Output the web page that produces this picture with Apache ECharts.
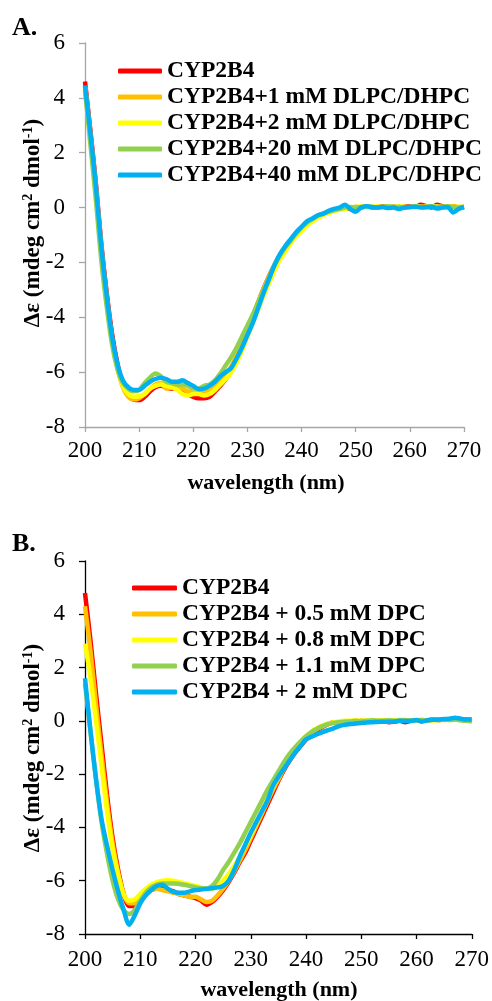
<!DOCTYPE html>
<html>
<head>
<meta charset="utf-8">
<script src="https://cdn.jsdelivr.net/npm/echarts@6/dist/echarts.min.js"></script>
<style>
html,body{margin:0;padding:0;background:#fff;}
#chart{width:492px;height:1001px;}
</style>
</head>
<body>
<div id="chart"></div>
<script>
// ---------- DATA ----------
var wavelengths = [200,201,202,203,204,205,206,207,208,209,210,211,212,213,214,215,216,217,218,219,220,221,222,223,224,225,226,227,228,229,230,231,232,233,234,235,236,237,238,239,240,241,242,243,244,245,246,247,248,249,250,251,252,253,254,255,256,257,258,259,260,261,262,263,264,265,266,267,268,269,270];

var namesA = ['CYP2B4','CYP2B4+1 mM DLPC/DHPC','CYP2B4+2 mM DLPC/DHPC','CYP2B4+20 mM DLPC/DHPC','CYP2B4+40 mM DLPC/DHPC'];
var namesB = ['CYP2B4','CYP2B4 + 0.5 mM DPC','CYP2B4 + 0.8 mM DPC','CYP2B4 + 1.1 mM DPC','CYP2B4 + 2 mM DPC'];

var A_red = [4.6,2.8,0.9,-1.3,-3.1,-4.6,-5.7,-6.45,-6.85,-7.0,
 -7.02,-6.9,-6.7,-6.55,-6.5,-6.55,-6.6,-6.55,-6.7,-6.8,
 -6.9,-6.95,-6.95,-6.9,-6.7,-6.5,-6.25,-5.95,-5.5,-5.05,
 -4.5,-3.95,-3.45,-2.95,-2.5,-2.1,-1.75,-1.45,-1.2,-0.95,
 -0.75,-0.6,-0.45,-0.32,-0.25,-0.15,-0.1,-0.05,0,-0.05,
 0.02,0,0.05,0,0.02,0.05,0,0.03,-0.02,0.03,
 0.05,0.02,0.1,0.05,0,0.1,0.05,0.02,0.05,0,0.02];
var A_orange = [4.4,2.6,0.7,-1.5,-3.3,-4.8,-5.85,-6.55,-6.9,-7.0,
 -6.95,-6.8,-6.6,-6.45,-6.4,-6.6,-6.55,-6.5,-6.6,-6.7,
 -6.75,-6.75,-6.75,-6.7,-6.55,-6.35,-6.1,-5.8,-5.4,-4.95,
 -4.45,-3.95,-3.45,-2.95,-2.5,-2.1,-1.75,-1.45,-1.2,-0.95,
 -0.75,-0.58,-0.45,-0.33,-0.25,-0.15,-0.1,-0.05,-0.02,0,
 0.02,0,0.03,0.02,0,0.03,0.02,0.05,0,0.02,
 0.03,0.05,0.02,0.05,0.03,0.05,0.02,0.03,0.05,0.02,0.03];
var A_yellow = [4.4,2.6,0.7,-1.5,-3.3,-4.8,-5.85,-6.5,-6.8,-6.9,
 -6.88,-6.8,-6.6,-6.5,-6.45,-6.5,-6.55,-6.65,-6.8,-6.85,
 -6.8,-6.8,-6.85,-6.8,-6.65,-6.45,-6.25,-6.0,-5.65,-5.2,
 -4.7,-4.2,-3.7,-3.2,-2.75,-2.3,-1.9,-1.6,-1.3,-1.05,
 -0.85,-0.65,-0.5,-0.38,-0.28,-0.2,-0.12,-0.08,-0.05,0,
 0.02,0.05,0,0.03,0.05,0.02,0.03,0,0.05,0.03,
 0,0.05,0.03,0.02,0.05,0.03,0.02,0.05,0.02,0.03,0.02];
var A_green = [4.3,2.3,0.3,-1.9,-3.6,-5.0,-5.9,-6.4,-6.6,-6.7,
 -6.65,-6.4,-6.2,-6.05,-6.15,-6.35,-6.4,-6.45,-6.45,-6.5,
 -6.6,-6.6,-6.5,-6.45,-6.3,-6.05,-5.75,-5.45,-5.1,-4.7,
 -4.3,-3.9,-3.45,-3.0,-2.55,-2.1,-1.75,-1.45,-1.2,-0.95,
 -0.72,-0.55,-0.42,-0.3,-0.22,-0.15,-0.1,-0.05,0,0.02,
 0,0.02,0.05,0.02,0,0.03,0.05,0.02,0.03,0,
 0.02,0.05,0.03,0,0.05,0.02,0.03,0.05,0.02,0,0.02];
var A_blue = [4.45,2.7,0.8,-1.4,-3.2,-4.7,-5.7,-6.3,-6.55,-6.65,
 -6.65,-6.5,-6.35,-6.25,-6.2,-6.25,-6.35,-6.35,-6.3,-6.4,
 -6.5,-6.62,-6.6,-6.5,-6.35,-6.15,-6.0,-5.85,-5.5,-5.1,
 -4.65,-4.2,-3.65,-3.1,-2.6,-2.1,-1.7,-1.4,-1.15,-0.9,
 -0.7,-0.5,-0.4,-0.28,-0.22,-0.12,-0.05,0.0,0.1,-0.05,
 -0.15,0.0,0.05,0.02,0,0.02,-0.02,0,-0.05,0,
 0.02,0.03,0,0.02,0.03,-0.03,0,0.02,-0.18,-0.05,0.02];

var B_red = [4.8,3.0,1.0,-0.9,-2.8,-4.4,-5.6,-6.5,-6.95,-6.95,
 -6.7,-6.5,-6.35,-6.3,-6.3,-6.35,-6.4,-6.5,-6.55,-6.6,
 -6.65,-6.75,-6.9,-6.8,-6.6,-6.35,-6.05,-5.7,-5.3,-4.95,
 -4.5,-4.05,-3.6,-3.15,-2.7,-2.25,-1.85,-1.5,-1.2,-0.95,
 -0.7,-0.5,-0.35,-0.22,-0.12,-0.05,-0.08,-0.08,-0.05,-0.05,
 0,-0.02,0,-0.02,0,-0.05,-0.03,0,-0.05,0,
 0.02,0,0.02,0.05,0.03,0.05,0.05,0.08,0.05,0.05,0.03];
var B_orange = [4.3,2.6,0.6,-1.3,-3.1,-4.6,-5.7,-6.5,-6.85,-6.85,
 -6.6,-6.45,-6.35,-6.3,-6.35,-6.4,-6.45,-6.5,-6.55,-6.6,
 -6.6,-6.7,-6.8,-6.75,-6.55,-6.3,-6.0,-5.65,-5.25,-4.85,
 -4.4,-3.95,-3.5,-3.05,-2.6,-2.2,-1.8,-1.45,-1.15,-0.9,
 -0.65,-0.45,-0.3,-0.2,-0.12,-0.08,-0.05,-0.05,-0.03,-0.03,
 0,-0.02,0,0,0.02,0,0,0.02,0,0.02,
 0.02,0.03,0.02,0.03,0.05,0.03,0.05,0.05,0.03,0.05,0.03];
var B_yellow = [2.9,1.6,0.0,-1.7,-3.4,-4.8,-5.8,-6.5,-6.75,-6.7,
 -6.5,-6.3,-6.15,-6.05,-6.0,-5.98,-6.0,-6.05,-6.1,-6.15,
 -6.2,-6.25,-6.3,-6.3,-6.2,-6.0,-5.75,-5.45,-5.1,-4.7,
 -4.3,-3.85,-3.4,-2.95,-2.5,-2.1,-1.7,-1.35,-1.05,-0.8,
 -0.58,-0.4,-0.28,-0.18,-0.1,-0.05,-0.02,0,0,0.02,
 0,0.02,0,0.02,0.02,0,0.02,0.03,0.02,0,
 0.02,0.02,0.03,0.02,0.03,0.05,0.03,0.05,0.03,0.02,0.03];
var B_green = [1.4,-0.4,-2.2,-3.8,-5.0,-6.0,-6.7,-7.1,-7.25,-7.1,
 -6.75,-6.45,-6.25,-6.15,-6.1,-6.1,-6.1,-6.12,-6.15,-6.2,
 -6.25,-6.28,-6.3,-6.2,-5.95,-5.6,-5.3,-4.95,-4.6,-4.2,
 -3.8,-3.4,-3.0,-2.6,-2.25,-1.9,-1.55,-1.25,-1.0,-0.78,
 -0.58,-0.42,-0.3,-0.2,-0.12,-0.08,-0.05,-0.03,-0.02,0,
 -0.02,0,0.02,0,0,0.02,0,0.02,0.03,0,
 0.02,0.03,0.02,0.05,0.03,0.05,0.03,0.05,0.02,0.0,-0.02];
var B_blue = [1.6,-0.4,-2.2,-3.7,-4.7,-5.6,-6.4,-7.1,-7.65,-7.3,
 -6.85,-6.55,-6.35,-6.2,-6.15,-6.3,-6.42,-6.45,-6.45,-6.4,
 -6.35,-6.33,-6.3,-6.28,-6.25,-6.2,-6.0,-5.6,-5.1,-4.65,
 -4.2,-3.8,-3.4,-3.0,-2.45,-2.1,-1.8,-1.5,-1.2,-0.95,
 -0.7,-0.6,-0.5,-0.42,-0.35,-0.28,-0.2,-0.15,-0.12,-0.1,
 -0.08,-0.06,-0.05,-0.04,-0.03,-0.03,-0.02,0,-0.01,0,
 0.03,-0.03,0.02,0.04,0.05,0.07,0.08,0.12,0.08,0.05,0.05];

var colors = ['#FF0000','#FFC000','#FFFF00','#92D050','#00B0F0'];
var yTicks = [-8,-6,-4,-2,0,2,4,6];
var xTicks = [200,210,220,230,240,250,260,270];

// ---------- CHART ----------
var FONT = "'Liberation Serif','Times New Roman',serif";
var chart = echarts.init(document.getElementById('chart'), null, {renderer:'canvas'});

function pairs(arr){ return wavelengths.map(function(w,i){ return [w, arr[i]]; }); }

function xAx(idx, col){
  return {gridIndex: idx, type:'value', min: xTicks[0], max: xTicks[xTicks.length-1], interval: 10,
    axisLine:{show:true, onZero:false, lineStyle:{color:col, width:1.3}},
    axisTick:{show:true, length:5, lineStyle:{color:col, width:1.3}},
    axisLabel:{fontSize:23, fontFamily:FONT, color:'#000', margin: idx===0?12:14},
    splitLine:{show:false}};
}
function yAx(idx, col){
  return {gridIndex: idx, type:'value', min: yTicks[0], max: yTicks[yTicks.length-1], interval: 2,
    axisLine:{show:true, onZero:false, lineStyle:{color:col, width:1.3}},
    axisTick:{show:true, length:6, lineStyle:{color:col, width:1.3}},
    axisLabel:{fontSize:23, fontFamily:FONT, color:'#000', margin:20},
    splitLine:{show:false}};
}

var seriesArr = [];
[A_red,A_orange,A_yellow,A_green,A_blue].forEach(function(d,i){
  seriesArr.push({type:'line', name:namesA[i], xAxisIndex:0, yAxisIndex:0, data:pairs(d),
    showSymbol:false, symbol:'none', smooth:0.3, color:colors[i],
    lineStyle:{width:4.5, color:colors[i]}, z: 2+i});
});
[B_red,B_orange,B_yellow,B_green,B_blue].forEach(function(d,i){
  seriesArr.push({type:'line', name:namesB[i], xAxisIndex:1, yAxisIndex:1, data:pairs(d),
    showSymbol:false, symbol:'none', smooth:0.3, color:colors[i],
    lineStyle:{width:4.5, color:colors[i]}, z: 2+i});
});

var legText = {fontSize:23.5, fontWeight:'bold', fontFamily:FONT, color:'#000', lineHeight:23};
var yTitleRich = {
  a:{fontSize:23, fontWeight:'bold', fontFamily:FONT, fill:'#000', color:'#000'},
  s:{fontSize:14, fontWeight:'bold', fontFamily:FONT, fill:'#000', color:'#000', verticalAlign:'top', padding:[0,0,10,0]}
};
var yTitleText = '{a|Δε (mdeg cm}{s|2}{a| dmol}{s|-1}{a|)}';

chart.setOption({
  animation:false,
  backgroundColor:'#fff',
  grid:[
    {left:85, top:43, width:379, height:384},
    {left:85, top:561, width:388, height:373}
  ],
  xAxis:[xAx(0,'#A6A6A6'), xAx(1,'#000')],
  yAxis:[yAx(0,'#A6A6A6'), yAx(1,'#000')],
  legend:[
    {data:namesA, orient:'vertical', left:113, top:54, itemWidth:44, itemHeight:5, itemGap:2,
     icon:'roundRect', textStyle:legText, selectedMode:false},
    {data:namesB, orient:'vertical', left:127, top:571, itemWidth:45, itemHeight:5, itemGap:2,
     icon:'roundRect', textStyle:legText, selectedMode:false}
  ],
  graphic:[
    {type:'text', x:12, y:28, style:{text:'A.', font:"bold 26px "+FONT, fill:'#000', textAlign:'left', textVerticalAlign:'middle'}},
    {type:'text', x:12, y:544, style:{text:'B.', font:"bold 26px "+FONT, fill:'#000', textAlign:'left', textVerticalAlign:'middle'}},
    {type:'text', x:33, y:223, rotation:Math.PI/2, style:{text:yTitleText, rich:yTitleRich, fill:'#000', textAlign:'center', textVerticalAlign:'middle'}},
    {type:'text', x:33, y:748, rotation:Math.PI/2, style:{text:yTitleText, rich:yTitleRich, fill:'#000', textAlign:'center', textVerticalAlign:'middle'}},
    {type:'text', x:266, y:483, style:{text:'wavelength (nm)', font:"bold 22px "+FONT, fill:'#000', textAlign:'center', textVerticalAlign:'middle'}},
    {type:'text', x:279, y:990, style:{text:'wavelength (nm)', font:"bold 22px "+FONT, fill:'#000', textAlign:'center', textVerticalAlign:'middle'}}
  ],
  series:seriesArr
});
</script>
</body>
</html>
